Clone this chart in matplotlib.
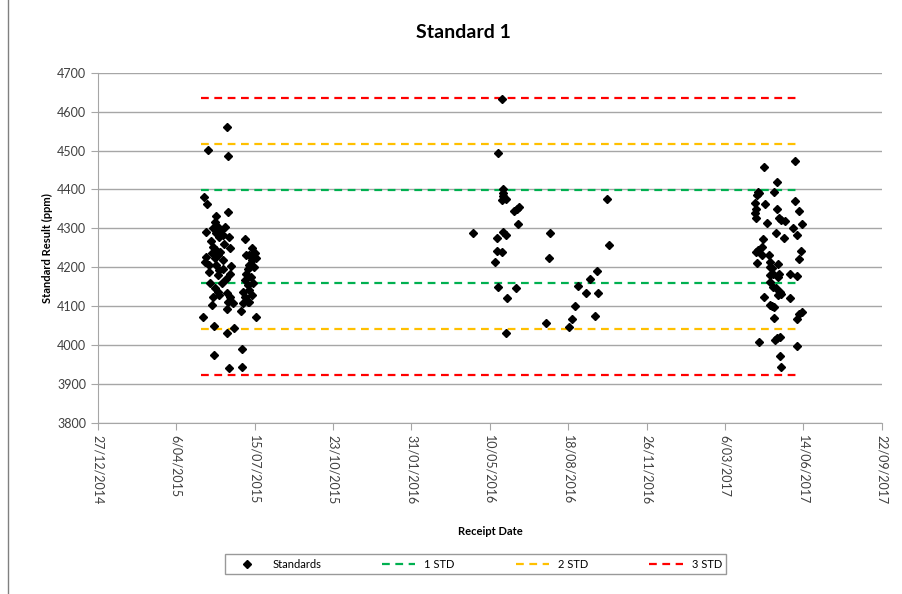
import datetime as dt
import matplotlib
matplotlib.use("Agg")
import matplotlib.pyplot as plt

# Standard 1 results (receipt date, ppm)
batch1_dates = [
    "2015-06-10", "2015-05-16", "2015-06-11", "2015-05-11", "2015-05-15", "2015-06-11",
    "2015-05-27", "2015-05-14", "2015-05-25", "2015-05-29", "2015-05-23", "2015-05-27",
    "2015-06-02", "2015-05-31", "2015-06-04", "2015-06-07", "2015-06-12", "2015-07-02",
    "2015-06-13", "2015-05-23", "2015-05-27", "2015-05-21", "2015-05-29", "2015-05-25",
    "2015-05-14", "2015-07-11", "2015-07-15", "2015-07-08", "2015-07-17", "2015-05-12",
    "2015-05-18", "2015-05-29", "2015-06-04", "2015-05-27", "2015-05-31", "2015-05-29",
    "2015-05-18", "2015-06-15", "2015-06-13", "2015-07-04", "2015-07-11", "2015-07-08",
    "2015-07-13", "2015-07-04", "2015-07-02", "2015-07-06", "2015-06-30", "2015-07-08",
    "2015-07-02", "2015-07-06", "2015-06-30", "2015-07-13", "2015-07-11", "2015-07-08",
    "2015-05-25", "2015-05-29", "2015-05-23", "2015-05-31", "2015-05-21", "2015-06-09",
    "2015-06-13", "2015-06-17", "2015-06-11", "2015-06-10", "2015-06-28", "2015-05-10",
    "2015-07-17", "2015-05-24", "2015-06-09", "2015-06-18", "2015-05-24", "2015-06-29",
    "2015-06-12", "2015-06-29", "2015-05-20", "2015-06-06", "2015-06-01", "2015-06-05",
    "2015-06-08", "2015-07-06", "2015-07-10", "2015-07-14", "2015-06-03", "2015-05-19",
]
batch1_values = [
    4561, 4501, 4487, 4381, 4362, 4341,
    4332, 4291, 4317, 4304, 4300, 4287,
    4296, 4278, 4283, 4304, 4278, 4274,
    4250, 4253, 4244, 4236, 4231, 4223,
    4227, 4249, 4236, 4231, 4223, 4214,
    4206, 4236, 4220, 4206, 4193, 4180,
    4188, 4203, 4184, 4231, 4218, 4206,
    4236, 4184, 4167, 4154, 4137, 4141,
    4124, 4111, 4107, 4159, 4129, 4111,
    4146, 4137, 4124, 4129, 4103, 4133,
    4124, 4107, 4111, 4092, 4087, 4073,
    4073, 4049, 4032, 4045, 3974, 3989,
    3940, 3944, 4268, 4260, 4240, 4195,
    4170, 4195, 4175, 4200, 4160, 4160,
]

batch2_dates = [
    "2016-05-26", "2016-05-20", "2016-05-27", "2016-05-27", "2016-05-27", "2016-05-30",
    "2016-05-26", "2016-06-10", "2016-06-13", "2016-06-16", "2016-06-15", "2016-04-19",
    "2016-05-19", "2016-05-27", "2016-05-30", "2016-05-19", "2016-05-26", "2016-05-17",
    "2016-05-20", "2016-06-01", "2016-06-12", "2016-05-30", "2016-07-26", "2016-07-25",
    "2016-07-20", "2016-08-19", "2016-08-23", "2016-08-26", "2016-08-31", "2016-09-09",
    "2016-09-15", "2016-09-24", "2016-09-25", "2016-09-21", "2016-10-06", "2016-10-09",
]
batch2_values = [
    4632, 4493, 4400, 4392, 4383, 4375,
    4373, 4344, 4350, 4355, 4311, 4287,
    4276, 4290, 4283, 4243, 4239, 4213,
    4150, 4122, 4147, 4032, 4287, 4223,
    4056, 4047, 4067, 4100, 4153, 4135,
    4171, 4190, 4133, 4076, 4375, 4258,
]

batch3_dates = [
    "2017-04-25", "2017-06-03", "2017-05-11", "2017-04-17", "2017-04-16", "2017-04-18",
    "2017-05-08", "2017-04-13", "2017-04-14", "2017-04-13", "2017-04-14", "2017-04-26",
    "2017-05-11", "2017-04-29", "2017-05-14", "2017-05-16", "2017-05-21", "2017-06-03",
    "2017-06-09", "2017-06-12", "2017-06-01", "2017-05-10", "2017-05-20", "2017-06-06",
    "2017-04-23", "2017-04-22", "2017-04-17", "2017-04-15", "2017-04-22", "2017-04-16",
    "2017-05-01", "2017-05-02", "2017-05-03", "2017-05-05", "2017-05-02", "2017-05-06",
    "2017-05-12", "2017-05-14", "2017-05-12", "2017-06-11", "2017-06-08", "2017-05-28",
    "2017-06-06", "2017-05-03", "2017-05-06", "2017-05-10", "2017-05-15", "2017-05-12",
    "2017-05-17", "2017-04-25", "2017-05-28", "2017-05-02", "2017-05-05", "2017-05-07",
    "2017-05-07", "2017-06-12", "2017-06-09", "2017-06-06", "2017-04-18", "2017-05-09",
    "2017-05-11", "2017-05-15", "2017-06-06", "2017-05-15", "2017-05-17",
]
batch3_values = [
    4457, 4473, 4420, 4394, 4386, 4390,
    4393, 4364, 4351, 4339, 4326, 4362,
    4349, 4315, 4326, 4321, 4319, 4370,
    4345, 4311, 4302, 4289, 4276, 4282,
    4274, 4253, 4244, 4240, 4231, 4210,
    4231, 4214, 4201, 4197, 4180, 4184,
    4208, 4184, 4176, 4241, 4221, 4182,
    4178, 4163, 4150, 4146, 4137, 4129,
    4131, 4124, 4122, 4103, 4101, 4098,
    4069, 4086, 4080, 4067, 4007, 4012,
    4017, 4020, 3998, 3972, 3943,
]

# control limits
mean_ppm = 4279
std_ppm = 118.5
limit_start = "2015-05-08"
limit_end = "2017-06-05"


def to_dates(lst):
    return [dt.datetime.strptime(s, "%Y-%m-%d") for s in lst]


dates = to_dates(batch1_dates + batch2_dates + batch3_dates)
values = batch1_values + batch2_values + batch3_values

plt.rcParams['font.family'] = ['Lato', 'DejaVu Sans']

fig = plt.figure(figsize=(9.03, 5.94), dpi=100)
ax = fig.add_axes([0.1085, 0.288, 0.868, 0.5895])

grid_col = '#a6a6a6'
ax.set_axisbelow(True)
ax.yaxis.grid(True, color=grid_col, linewidth=1.0)

ax.plot(dates, values, linestyle='none', marker='D', color='black',
        markersize=4.5, label='Standards', zorder=3)

lx = to_dates([limit_start, limit_end])
styles = [(1, '#00b050', '1 STD'), (2, '#ffc000', '2 STD'), (3, '#ff0000', '3 STD')]
for k, col, lab in styles:
    ax.plot(lx, [mean_ppm + k * std_ppm] * 2, color=col, linestyle=(0, (3.5, 2.5)),
            linewidth=1.6, label=lab, zorder=2)
    ax.plot(lx, [mean_ppm - k * std_ppm] * 2, color=col, linestyle=(0, (3.5, 2.5)),
            linewidth=1.6, zorder=2)

# x ticks every 100 days like the Excel axis
x0 = dt.datetime(2014, 12, 27)
ticks = [x0 + dt.timedelta(days=100 * i) for i in range(11)]
ax.set_xlim(ticks[0], ticks[-1])
ax.set_xticks(ticks)
ax.set_xticklabels([f"{t.day}/{t.month:02d}/{t.year}" for t in ticks],
                   rotation=270, fontsize=9, color='#404040')
ax.set_ylim(3800, 4700)
ax.set_yticks(range(3800, 4701, 100))
ax.tick_params(axis='y', labelsize=9, labelcolor='#404040', color=grid_col, length=5)
ax.tick_params(axis='x', color=grid_col, length=5)

for s in ['top', 'right']:
    ax.spines[s].set_visible(False)
for s in ['left', 'bottom']:
    ax.spines[s].set_color(grid_col)

ax.set_ylabel('Standard Result (ppm)', fontsize=8, fontweight='bold', labelpad=3)
ax.set_xlabel('Receipt Date', fontsize=8, fontweight='bold', labelpad=16)
fig.text(0.513, 0.946, 'Standard 1', fontsize=14,
         fontweight='bold', ha='center', va='center')

leg = fig.legend(loc='center', bbox_to_anchor=(0.527, 0.05), ncol=4, fontsize=8,
                 frameon=True, fancybox=False, edgecolor='#808080',
                 handlelength=3, columnspacing=5.5, borderpad=0.4)
leg.get_frame().set_linewidth(1.0)

# chart area border
fig.add_artist(plt.Line2D([0.009, 0.009], [0, 1], color='#808080', linewidth=1.0))

fig.savefig('out.png', dpi=100)
